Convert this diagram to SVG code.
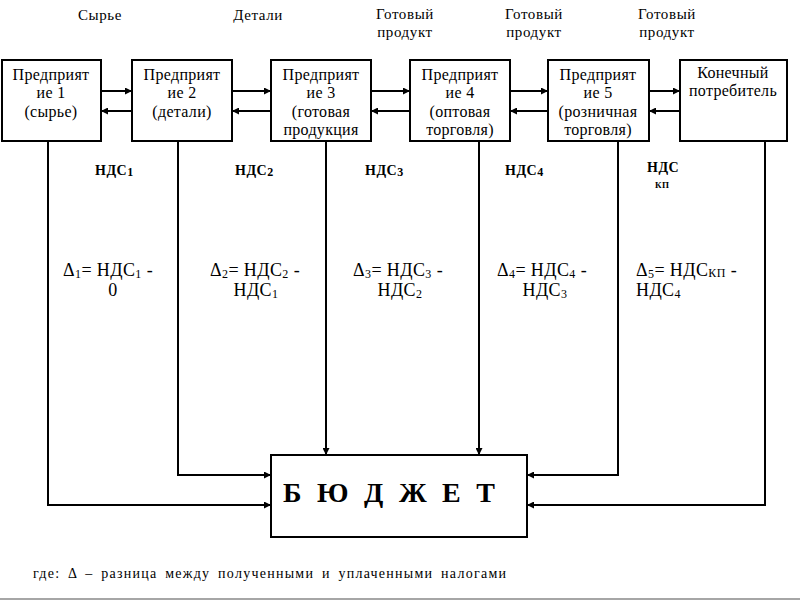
<svg xmlns="http://www.w3.org/2000/svg" width="800" height="600" viewBox="0 0 800 600" font-family="Liberation Serif, Times New Roman, serif">
<defs>
<marker id="ah" viewBox="0 0 10 10" refX="10" refY="5" markerWidth="8" markerHeight="7" markerUnits="userSpaceOnUse" orient="auto">
<path d="M0,0 L10,5 L0,10 z" fill="#000"/>
</marker>
<style>
text{fill:#000}
.box{fill:#fff;stroke:#000;stroke-width:2}
.t{font-size:16px;text-anchor:middle;letter-spacing:0.3px}
.top{font-size:15px;text-anchor:middle;letter-spacing:0.6px}
.nds{font-size:14px;font-weight:bold;letter-spacing:0.5px}
.f{font-size:18px;letter-spacing:0.4px}
.m{text-anchor:middle}
.c{fill:none;stroke:#000;stroke-width:2}
.sub{font-size:12px}
.bud{font-size:28px;font-weight:bold}
.foot{font-size:14px;word-spacing:3px}
</style>
</defs>
<rect width="800" height="600" fill="#fff"/>
<g id="top-labels">
<text class="top" x="100" y="20">Сырье</text>
<text class="top" x="258" y="20">Детали</text>
<text class="top" x="405" y="19">Готовый</text>
<text class="top" x="405" y="37">продукт</text>
<text class="top" x="534" y="19">Готовый</text>
<text class="top" x="534" y="37">продукт</text>
<text class="top" x="667" y="19">Готовый</text>
<text class="top" x="667" y="37">продукт</text>
</g>
<g id="connectors">
<line class="c" x1="101" y1="91" x2="132" y2="91" marker-end="url(#ah)"/>
<line class="c" x1="132" y1="111" x2="101" y2="111" marker-end="url(#ah)"/>
<line class="c" x1="232" y1="91" x2="271" y2="91" marker-end="url(#ah)"/>
<line class="c" x1="271" y1="111" x2="232" y2="111" marker-end="url(#ah)"/>
<line class="c" x1="371" y1="91" x2="410" y2="91" marker-end="url(#ah)"/>
<line class="c" x1="410" y1="111" x2="371" y2="111" marker-end="url(#ah)"/>
<line class="c" x1="510" y1="91" x2="548" y2="91" marker-end="url(#ah)"/>
<line class="c" x1="548" y1="111" x2="510" y2="111" marker-end="url(#ah)"/>
<line class="c" x1="649" y1="91" x2="680" y2="91" marker-end="url(#ah)"/>
<line class="c" x1="680" y1="111" x2="649" y2="111" marker-end="url(#ah)"/>
<polyline class="c" points="48,141 48,505 271,505" marker-end="url(#ah)"/>
<polyline class="c" points="178,141 178,475 271,475" marker-end="url(#ah)"/>
<line class="c" x1="326" y1="141" x2="326" y2="455" marker-end="url(#ah)"/>
<line class="c" x1="479" y1="141" x2="479" y2="455" marker-end="url(#ah)"/>
<polyline class="c" points="618,141 618,475 527,475" marker-end="url(#ah)"/>
<polyline class="c" points="765,141 765,505 527,505" marker-end="url(#ah)"/>
</g>
<g id="node1">
<rect class="box" x="2" y="60" width="99" height="81"/>
<text class="t" x="51" y="80">Предприят</text>
<text class="t" x="51" y="98">ие 1</text>
<text class="t" x="51" y="117">(сырье)</text>
</g>
<g id="node2">
<rect class="box" x="132" y="60" width="100" height="81"/>
<text class="t" x="182" y="80">Предприят</text>
<text class="t" x="182" y="98">ие 2</text>
<text class="t" x="182" y="117">(детали)</text>
</g>
<g id="node3">
<rect class="box" x="271" y="60" width="100" height="81"/>
<text class="t" x="321" y="80">Предприят</text>
<text class="t" x="321" y="98">ие 3</text>
<text class="t" x="321" y="117">(готовая</text>
<text class="t" x="321" y="135">продукция</text>
</g>
<g id="node4">
<rect class="box" x="410" y="60" width="100" height="81"/>
<text class="t" x="460" y="80">Предприят</text>
<text class="t" x="460" y="98">ие 4</text>
<text class="t" x="460" y="117">(оптовая</text>
<text class="t" x="460" y="135">торговля)</text>
</g>
<g id="node5">
<rect class="box" x="548" y="60" width="101" height="81"/>
<text class="t" x="598" y="80">Предприят</text>
<text class="t" x="598" y="98">ие 5</text>
<text class="t" x="598" y="117">(розничная</text>
<text class="t" x="598" y="135">торговля)</text>
</g>
<g id="node6">
<rect class="box" x="680" y="60" width="107" height="81"/>
<text class="t" x="733" y="78">Конечный</text>
<text class="t" x="733" y="96">потребитель</text>
</g>
<g id="nds-labels">
<text class="nds" x="95" y="175">НДС<tspan class="sub" dy="1">1</tspan></text>
<text class="nds" x="235" y="175">НДС<tspan class="sub" dy="1">2</tspan></text>
<text class="nds" x="365" y="175">НДС<tspan class="sub" dy="1">3</tspan></text>
<text class="nds" x="505" y="175">НДС<tspan class="sub" dy="1">4</tspan></text>
<text class="nds" x="647" y="172">НДС</text>
<text class="nds" x="655" y="188" style="font-size:9px">КП</text>
</g>
<g id="formulas">
<text class="f" x="63" y="276">Δ<tspan class="sub" dy="2">1</tspan><tspan dy="-2">= НДС</tspan><tspan class="sub" dy="2">1</tspan><tspan dy="-2"> -</tspan></text>
<text class="f m" x="113" y="296">0</text>
<text class="f" x="210" y="276">Δ<tspan class="sub" dy="2">2</tspan><tspan dy="-2">= НДС</tspan><tspan class="sub" dy="2">2</tspan><tspan dy="-2"> -</tspan></text>
<text class="f m" x="256" y="296">НДС<tspan class="sub" dy="2">1</tspan></text>
<text class="f" x="353" y="276">Δ<tspan class="sub" dy="2">3</tspan><tspan dy="-2">= НДС</tspan><tspan class="sub" dy="2">3</tspan><tspan dy="-2"> -</tspan></text>
<text class="f m" x="400" y="296">НДС<tspan class="sub" dy="2">2</tspan></text>
<text class="f" x="497" y="276">Δ<tspan class="sub" dy="2">4</tspan><tspan dy="-2">= НДС</tspan><tspan class="sub" dy="2">4</tspan><tspan dy="-2"> -</tspan></text>
<text class="f m" x="545" y="296">НДС<tspan class="sub" dy="2">3</tspan></text>
<text class="f" x="636" y="276">Δ<tspan class="sub" dy="2">5</tspan><tspan dy="-2">= НДС</tspan><tspan class="sub" dy="1">КП</tspan><tspan dy="-1"> -</tspan></text>
<text class="f" x="636" y="296">НДС<tspan class="sub" dy="2">4</tspan></text>
</g>
<g id="budget">
<rect class="box" x="271" y="455" width="256" height="82"/>
<text class="bud" x="283" y="502" textLength="212" lengthAdjust="spacing">Б Ю Д Ж Е Т</text>
</g>
<g id="footer">
<text class="foot" x="33" y="578" textLength="473" lengthAdjust="spacing">где: Δ – разница между полученными и уплаченными налогами</text>
</g>
<line x1="0" y1="599" x2="800" y2="599" stroke="#888" stroke-width="1.5"/>
</svg>
